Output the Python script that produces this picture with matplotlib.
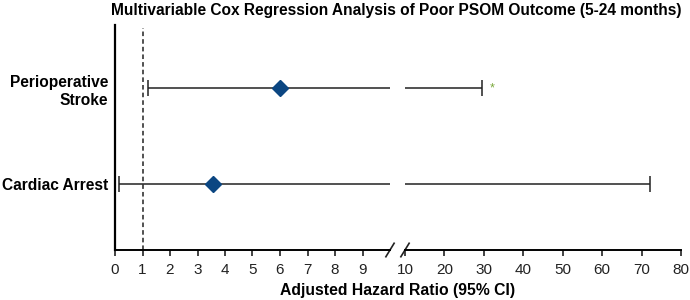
import matplotlib
matplotlib.use('Agg')
import matplotlib.pyplot as plt

plt.rcParams['font.family'] = ['Liberation Sans', 'DejaVu Sans']

# data
labels = ['Cardiac Arrest', 'Perioperative\nStroke']
hr = [3.55, 6.0]
ci_low = [0.15, 1.2]
ci_high = [72.2, 29.6]
ypos = [0, 1]
star_x = 32.0
ref_line = 1
left_ticks = list(range(0, 10))
right_ticks = list(range(10, 90, 10))

blue = '#0b4682'
dark = '#222222'

fig = plt.figure(figsize=(6.9, 3.0), dpi=100)
ax1 = fig.add_axes([115/690, 50/300, 275/690, 225/300])
ax2 = fig.add_axes([405/690, 50/300, 276/690, 225/300])

ax1.set_xlim(0, 10)
ax2.set_xlim(10, 80)
for ax in (ax1, ax2):
    ax.set_ylim(-0.686, 1.656)
    ax.spines['top'].set_visible(False)
    ax.spines['right'].set_visible(False)
    ax.spines['bottom'].set_linewidth(1.4)
    ax.spines['left'].set_linewidth(1.6)
    ax.tick_params(axis='x', direction='out', length=4, width=1.2, labelsize=11,
                   colors=dark, pad=5)
ax2.spines['left'].set_visible(False)
ax2.set_yticks([])

ax1.set_xticks(left_ticks)
ax2.set_xticks(right_ticks)
ax1.set_yticks(ypos)
ax1.set_yticklabels(labels, fontweight='bold', fontsize=11.2, ha='right',
                    linespacing=1.25)
ax1.tick_params(axis='y', length=0, pad=5)

# reference line at HR = 1
ax1.axvline(ref_line, color=dark, ls=(0, (3, 2)), lw=1.1, ymax=0.985)

cap = 11
for y, h, lo, hi in zip(ypos, hr, ci_low, ci_high):
    # left panel
    ax1.hlines(y, lo, min(hi, 10), color=dark, lw=1.1)
    if lo < 10:
        ax1.plot([lo], [y], marker='|', ms=cap, mew=1.1, color=dark)
    if hi < 10:
        ax1.plot([hi], [y], marker='|', ms=cap, mew=1.1, color=dark)
    # right panel
    if hi > 10:
        ax2.hlines(y, max(lo, 10), hi, color=dark, lw=1.1)
        ax2.plot([hi], [y], marker='|', ms=cap, mew=1.1, color=dark)
    ax1.plot([h], [y], marker='D', ms=8, color=blue, zorder=5)

ax2.text(star_x, ypos[1], '*', color='#7aa83a', fontsize=9, ha='center', va='center')

# axis break marks
d = dict(color=dark, lw=1.2, clip_on=False)
ax1.plot([0.985, 1.015], [-0.03, 0.03], transform=ax1.transAxes, **d)
ax2.plot([-0.015, 0.015], [-0.03, 0.03], transform=ax2.transAxes, **d)

fig.text(396/690, 1 - 11/300, 'Multivariable Cox Regression Analysis of Poor PSOM Outcome (5-24 months)',
         ha='center', va='center', fontsize=11.2, fontweight='bold')
fig.text(398/690, 1 - 290/300, 'Adjusted Hazard Ratio (95% CI)',
         ha='center', va='center', fontsize=11.3, fontweight='bold')

fig.savefig('out.png', dpi=100)
